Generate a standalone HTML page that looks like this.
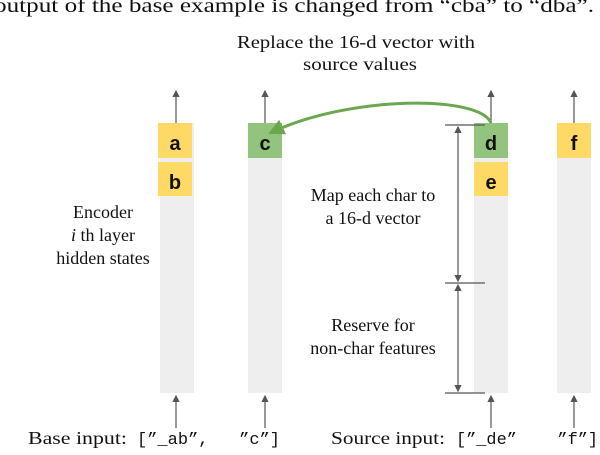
<!DOCTYPE html>
<html><head><style>
body{margin:0;background:#fff;}
svg text{font-family:"Liberation Serif",serif;font-size:18px;fill:#111;}
.m{font-family:"Liberation Mono",monospace;font-size:17px;white-space:pre;}
.b{font-family:"Liberation Sans",sans-serif;font-weight:bold;font-size:20px;}
</style></head><body>
<svg width="600" height="450" viewBox="0 0 600 450" xmlns="http://www.w3.org/2000/svg" xml:space="preserve">
<defs>
<marker id="ar" markerWidth="6" markerHeight="6" refX="5" refY="3" orient="auto"><path d="M0,0 L6,3 L0,6 z" fill="#555"/></marker>
<marker id="gr" markerUnits="userSpaceOnUse" markerWidth="18" markerHeight="16" refX="14" refY="8" orient="auto"><path d="M0,0 L16,8 L0,16 z" fill="#6aa84f"/></marker>
</defs>
<text x="-6" y="12" style="font-size:20px" textLength="600" lengthAdjust="spacingAndGlyphs">output of the base example is changed from “cba” to “dba”.</text>
<text x="237" y="48" textLength="238" lengthAdjust="spacingAndGlyphs">Replace the 16-d vector with</text>
<text x="303" y="70" textLength="114" lengthAdjust="spacingAndGlyphs">source values</text>
<rect x="160" y="123" width="34" height="270" fill="#eee"/>
<rect x="248" y="123" width="34" height="270" fill="#eee"/>
<rect x="474" y="123" width="34" height="270" fill="#eee"/>
<rect x="557" y="123" width="34" height="270" fill="#eee"/>
<rect x="158" y="123" width="34" height="35" fill="#ffd966"/>
<rect x="158" y="162" width="34" height="34" fill="#ffd966"/>
<rect x="248" y="123" width="34" height="35" fill="#93c47d"/>
<rect x="474" y="123" width="34" height="35" fill="#93c47d"/>
<rect x="474" y="162" width="34" height="34" fill="#ffd966"/>
<rect x="557" y="123" width="34" height="35" fill="#ffd966"/>
<text class="b" x="175" y="150" text-anchor="middle">a</text>
<text class="b" x="175" y="189" text-anchor="middle">b</text>
<text class="b" x="265" y="150" text-anchor="middle">c</text>
<text class="b" x="491" y="150" text-anchor="middle">d</text>
<text class="b" x="491" y="189" text-anchor="middle">e</text>
<text class="b" x="574" y="150" text-anchor="middle">f</text>
<g stroke="#555" stroke-width="1.2" marker-end="url(#ar)">
<line x1="176" y1="123" x2="176" y2="91"/>
<line x1="265" y1="123" x2="265" y2="91"/>
<line x1="491" y1="123" x2="491" y2="91"/>
<line x1="574" y1="123" x2="574" y2="91"/>
<line x1="176" y1="428" x2="176" y2="396"/>
<line x1="265" y1="428" x2="265" y2="396"/>
<line x1="491" y1="428" x2="491" y2="396"/>
<line x1="574" y1="428" x2="574" y2="396"/>
<line x1="458" y1="200" x2="458" y2="127"/>
<line x1="458" y1="200" x2="458" y2="281"/>
<line x1="458" y1="330" x2="458" y2="285"/>
<line x1="458" y1="330" x2="458" y2="391"/>
</g>
<g stroke="#555" stroke-width="1.2">
<line x1="445" y1="125" x2="485" y2="125"/>
<line x1="445" y1="283" x2="485" y2="283"/>
<line x1="445" y1="393" x2="485" y2="393"/>
</g>
<path d="M491,123 C480,95 350,95 270,133" stroke="#6aa84f" stroke-width="3" fill="none" marker-end="url(#gr)"/>
<text x="103" y="218" text-anchor="middle">Encoder</text>
<text x="103" y="241" text-anchor="middle"><tspan font-style="italic">i</tspan> th layer</text>
<text x="103" y="264" text-anchor="middle">hidden states</text>
<text x="373" y="201" text-anchor="middle">Map each char to</text>
<text x="373" y="224" text-anchor="middle">a 16-d vector</text>
<text x="373" y="331" text-anchor="middle">Reserve for</text>
<text x="373" y="354" text-anchor="middle">non-char features</text>
<text x="28" y="444" textLength="99" lengthAdjust="spacingAndGlyphs">Base input:</text>
<text class="m" x="137" y="444" textLength="143" lengthAdjust="spacingAndGlyphs">[”_ab”,   ”c”]</text>
<text x="331" y="444" textLength="114" lengthAdjust="spacingAndGlyphs">Source input:</text>
<text class="m" x="456" y="444" textLength="142" lengthAdjust="spacingAndGlyphs">[”_de”    ”f”]</text>
</svg>
</body></html>
